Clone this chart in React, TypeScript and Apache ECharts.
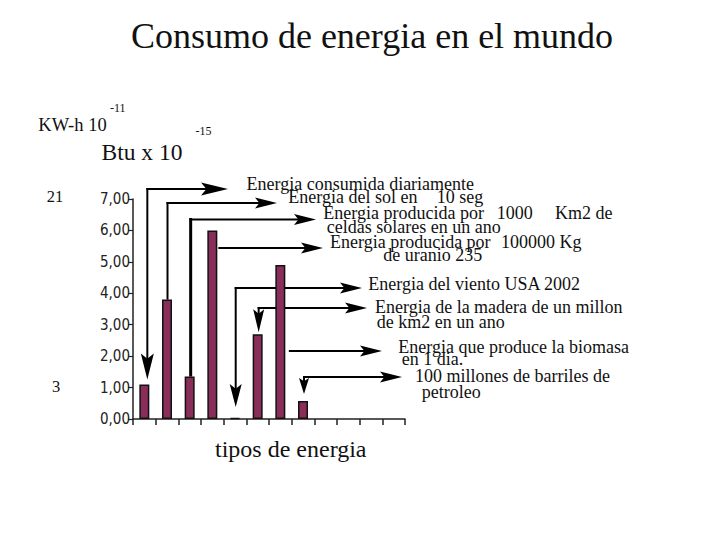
import React, { useEffect, useRef } from "react";
import * as echarts from "echarts";

// ---- data ----
const categories = [
  "Consumida diariamente",
  "Sol 10 seg",
  "Celdas solares",
  "Uranio 235",
  "Viento USA 2002",
  "Madera",
  "Biomasa",
  "Petroleo",
  "c9",
  "c10",
  "c11",
  "c12",
];
const btuValues: (number | null)[] = [1.1, 3.8, 1.35, 6.0, 0.03, 2.7, 4.9, 0.57, null, null, null, null];
const yMin = 0;
const yMax = 7;
const yInterval = 1;

const titleText = "Consumo de energia en el mundo";
const xAxisTitle = "tipos de energia";
const unitTexts = ["KW-h 10", "-11", "Btu x 10", "-15"];
const kwhTicks = ["21", "3"];

// annotation text pieces (one entry per text run)
const annotationTexts = [
  "Energia consumida diariamente",
  "Energia del sol en",
  "10 seg",
  "Energia producida por",
  "1000",
  "Km2 de",
  "celdas solares en un ano",
  "Energia producida por",
  "100000 Kg",
  "de uranio 235",
  "Energia del viento USA 2002",
  "Energia de la madera de un millon",
  "de km2 en un ano",
  "Energia que produce la biomasa",
  "en 1 dia.",
  "100 millones de barriles de",
  "petroleo",
];

// ---- layout (pixels) ----
// [x, baselineY, align]
const annotationLayout: [number, number, string][] = [
  [246.5, 190, "left"],
  [288.3, 203.3, "left"],
  [483.3, 203.3, "right"],
  [323.3, 219.3, "left"],
  [496.7, 219.3, "left"],
  [555, 219.3, "left"],
  [326.7, 232.7, "left"],
  [330, 248.3, "left"],
  [501, 248.3, "left"],
  [383.3, 260.7, "left"],
  [368.3, 290, "left"],
  [375, 313.3, "left"],
  [376.7, 328.3, "left"],
  [398.3, 353.3, "left"],
  [401.7, 365, "left"],
  [415, 381.7, "left"],
  [421.7, 398.3, "left"],
];

type ArrowSpec = {
  bar: number;
  dx: number;
  elbowY: number;
  tipX: number;
  down: number | null;
  fromTop?: boolean;
  hStart?: number;
  L: number;
  W: number;
  dL?: number;
  dW?: number;
  lw?: number;
};
const arrowLayout: ArrowSpec[] = [
  { bar: 0, dx: 3, elbowY: 189, tipX: 228, down: 5, L: 27, W: 13, dL: 26, dW: 13 },
  { bar: 1, dx: 0.5, elbowY: 203, tipX: 277, down: null, fromTop: true, L: 22, W: 11 },
  { bar: 2, dx: 1, elbowY: 219.5, tipX: 316, down: null, fromTop: true, L: 22, W: 11, lw: 3 },
  { bar: 3, dx: 0, elbowY: 248, tipX: 323, down: null, hStart: 6, L: 22, W: 11 },
  { bar: 4, dx: 0.7, elbowY: 288, tipX: 362, down: 11, L: 22, W: 11, dL: 23, dW: 12 },
  { bar: 5, dx: 1, elbowY: 308, tipX: 367, down: 2, L: 22, W: 11, dL: 23, dW: 11 },
  { bar: 6, dx: 0, elbowY: 351, tipX: 382, down: null, hStart: 8.5, L: 22, W: 11 },
  { bar: 7, dx: 1, elbowY: 377, tipX: 402, down: 7, L: 22, W: 11, dL: 16, dW: 10 },
];

const SERIF = "Liberation Serif";

function textEl(text: string, x: number, baseline: number, size: number, align = "left") {
  return {
    type: "text",
    z: 10,
    x,
    y: baseline - 0.34 * size,
    style: {
      text,
      fill: "#111",
      fontSize: size,
      fontFamily: SERIF,
      textAlign: align,
      textVerticalAlign: "middle",
    },
  };
}

function headRight(tx: number, ty: number, L: number, W: number) {
  return {
    type: "polygon",
    z: 4,
    shape: {
      points: [
        [tx, ty],
        [tx - L, ty - W / 2],
        [tx - L * 0.8, ty],
        [tx - L, ty + W / 2],
      ],
    },
    style: { fill: "#000" },
  };
}
function headDown(tx: number, ty: number, L: number, W: number) {
  return {
    type: "polygon",
    z: 4,
    shape: {
      points: [
        [tx, ty],
        [tx - W / 2, ty - L],
        [tx, ty - L * 0.8],
        [tx + W / 2, ty - L],
      ],
    },
    style: { fill: "#000" },
  };
}
function lineEl(x1: number, y1: number, x2: number, y2: number, lw = 2) {
  return {
    type: "line",
    z: 1,
    shape: { x1, y1, x2, y2 },
    style: { stroke: "#000", lineWidth: lw },
  };
}

export default function App() {
  const ref = useRef<HTMLDivElement>(null);
  useEffect(() => {
    if (!ref.current) return;
    const chart = echarts.init(ref.current, undefined, { renderer: "svg", width: 720, height: 540 });
    chart.setOption({
      animation: false,
      backgroundColor: "#fff",
      grid: { left: 133, right: 315, top: 199, bottom: 121, containLabel: false },
      xAxis: {
        type: "category",
        data: categories,
        boundaryGap: true,
        axisLine: { show: true, lineStyle: { color: "#222", width: 1.5 } },
        axisTick: { show: true, length: 6, interval: 0, lineStyle: { color: "#222", width: 1.5 } },
        axisLabel: { show: false },
        splitLine: { show: false },
      },
      yAxis: {
        type: "value",
        min: yMin,
        max: yMax,
        interval: yInterval,
        axisLine: { show: true, lineStyle: { color: "#222", width: 1.5 } },
        axisTick: { show: true, length: 5, lineStyle: { color: "#222", width: 1.2 } },
        axisLabel: {
          show: true,
          margin: 3,
          color: "#222",
          fontSize: 15,
          fontFamily: "'Liberation Sans Narrow', 'DejaVu Sans Condensed', sans-serif",
          formatter: (v: number) => v.toFixed(2).replace(".", ","),
        },
        splitLine: { show: false },
      },
      series: [
        {
          type: "bar",
          z: 5,
          data: btuValues,
          barWidth: 10,
          itemStyle: { color: "#8a2d5a", borderColor: "#111", borderWidth: 1.5 },
        },
      ],
    });

    const px = (i: number, v: number) => chart.convertToPixel({ xAxisIndex: 0, yAxisIndex: 0 }, [i, v]) as number[];

    const graphics: any[] = [];
    graphics.push(textEl(titleText, 372, 48.3, 36, "center"));
    graphics.push(textEl(xAxisTitle, 215, 457, 24));
    graphics.push(textEl(unitTexts[0], 38.3, 131.7, 18.5));
    graphics.push(textEl(unitTexts[1], 110, 112.5, 12));
    graphics.push(textEl(unitTexts[2], 101.5, 160, 23.5));
    graphics.push(textEl(unitTexts[3], 195.5, 135.5, 12));
    graphics.push(textEl(kwhTicks[0], 46.7, 202.5, 16.5));
    graphics.push(textEl(kwhTicks[1], 52, 392, 16.5));

    annotationTexts.forEach((t, k) => {
      const [x, b, a] = annotationLayout[k];
      graphics.push(textEl(t, x, b, 18, a));
    });

    arrowLayout.forEach((s) => {
      const v = btuValues[s.bar] as number;
      const [cx, topY] = px(s.bar, v);
      const lw = s.lw ?? 2;
      const vx = cx + s.dx;
      let hx0 = vx;
      if (s.hStart !== undefined) {
        hx0 = cx + s.hStart;
      } else if (s.fromTop) {
        graphics.push(lineEl(vx, topY, vx, s.elbowY - lw / 2, lw));
      } else if (s.down !== null) {
        const tipY = topY - s.down;
        graphics.push(lineEl(vx, s.elbowY - 1, vx, tipY - (s.dL ?? 20) * 0.6, 2));
        graphics.push(headDown(vx, tipY, s.dL ?? 20, s.dW ?? 10));
      }
      graphics.push(lineEl(hx0 - (s.hStart !== undefined ? 0 : 1), s.elbowY, s.tipX - s.L * 0.6, s.elbowY, 2));
      graphics.push(headRight(s.tipX, s.elbowY, s.L, s.W));
    });

    chart.setOption({ graphic: { elements: graphics } });
    return () => chart.dispose();
  }, []);
  return (
    <div
      ref={ref}
      style={{ position: "absolute", left: 0, top: 0, width: 720, height: 540, background: "#fff" }}
    />
  );
}
